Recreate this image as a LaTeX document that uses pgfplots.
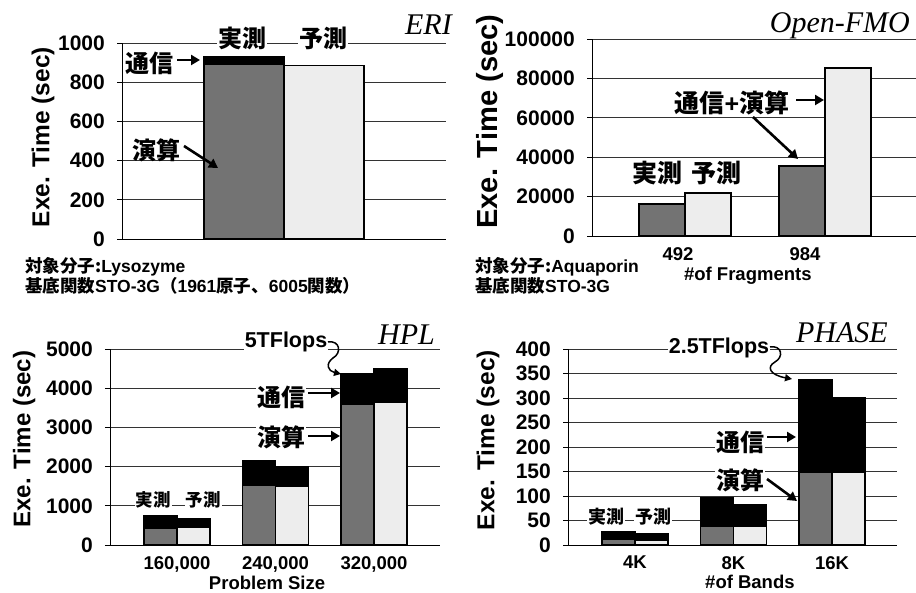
\documentclass[border=0pt]{standalone}
\usepackage{pgfplots}
\pgfplotsset{compat=1.18}
\usetikzlibrary{arrows.meta,patterns}
\usepackage{fontspec}
\setmainfont{Liberation Sans}
\newfontfamily\serifit{Liberation Serif}
\newfontfamily\jp{Noto Sans CJK JP}
\newcommand{\ylab}[1]{\resizebox{#1pt}{!}{\bfseries Exe. Time (sec)}}
\pgfplotsset{
  panel/.style={
    scale only axis,
    anchor=south west,
    ybar,
    axis x line*=bottom,
    axis y line*=left,
    axis line style={black, line width=0.9pt, -},
    ymin=0,
    ymajorgrids,
    major grid style={black!80, line width=0.6pt},
    xtick style={draw=none},
    ytick style={black, line width=0.6pt},
    tick align=outside,
    major tick length=5pt,
    scaled y ticks=false,
    yticklabel style={font=\fontsize{21}{21}\selectfont\bfseries, inner sep=0pt, anchor=east, xshift=-12pt},
    xticklabel style={font=\fontsize{18.5}{18.5}\selectfont\bfseries, inner sep=0pt, yshift=-6pt},
    ylabel style={font=\fontsize{24.5}{24.5}\selectfont\bfseries, anchor=center, inner sep=0pt},
    xlabel style={font=\fontsize{18.5}{18.5}\selectfont\bfseries, anchor=center},
    /pgf/number format/assume math mode=true,
    clip=false,
  },
  tot/.style={fill=black, draw=black, line width=1.5pt},
  meas/.style={fill=black!55, draw=black, line width=1.5pt},
  pred/.style={fill=black!7, draw=black, line width=1.5pt},
}
\tikzset{
  jl/.style={font=\jp\bfseries\fontsize{24}{24}\selectfont, inner sep=1pt},
  ar/.style={line width=2.6pt, -{Triangle[length=9pt,width=10pt]}},
  ttl/.style={font=\serifit\itshape\fontsize{30}{30}\selectfont, inner sep=0pt, anchor=base east},
  note/.style={anchor=west, inner sep=0pt, font=\bfseries\fontsize{17.5}{17.5}\selectfont},
}
\begin{document}
\begin{tikzpicture}[x=1pt,y=1pt]
\useasboundingbox (0,0) rectangle (916,593);

% ---------------- ERI ----------------
\begin{axis}[panel, at={(122pt,354pt)}, width=324pt, height=196pt,
  ymax=1000, ytick={0,200,400,600,800,1000}, yticklabels={0,200,400,600,800,1000},
  xmin=-1, xmax=1, xtick=\empty, bar width=80pt,
  ylabel={\ylab{180}},
  ylabel style={at={(axis description cs:-0.244,0.52)}}]
\addplot[tot, bar shift=-40pt] coordinates {(0,930)};
\addplot[meas, bar shift=-40pt] coordinates {(0,890)};
\addplot[pred, bar shift=40pt] coordinates {(0,885)};
\end{axis}
\node[ttl] at (452,558) {ERI};
\node[jl, fill=white] at (242,555) {実測};
\node[jl, fill=white] at (323,555) {予測};
\node[jl] at (149,530) {通信};
\draw[ar] (177,533) -- (200,533);
\node[jl] at (156,443) {演算};
\draw[ar] (184,447) -- (218,425);
\node[note] at (25,326) {{\jp 対象分子:}Lysozyme};
\node[note] at (25,307) {{\jp 基底関数}STO-3G{\jp （}1961{\jp 原子、}6005{\jp 関数）}};

% ---------------- Open-FMO ----------------
\begin{axis}[panel, at={(592pt,357pt)}, width=324pt, height=197pt,
  ymax=100000, ytick={0,20000,40000,60000,80000,100000}, yticklabels={0,20000,40000,60000,80000,100000},
  xmin=-0.664, xmax=1.65, xtick={-0.05,0.857}, xticklabels={492,984}, bar width=46pt,
  xlabel={\#of Fragments},
  xlabel style={at={(axis description cs:0.481,-0.203)}},
  ylabel={\ylab{214}},
  ylabel style={at={(axis description cs:-0.315,0.58)}}]
\addplot[meas, bar shift=-23pt] coordinates {(0,16200) (1,35500)};
\addplot[pred, bar shift=23pt] coordinates {(0,21800) (1,85300)};
\end{axis}
\node[ttl] at (910,560) {Open-FMO};
\node[jl, font=\jp\bfseries\fontsize{25}{25}\selectfont] at (657,420) {実測};
\node[jl, font=\jp\bfseries\fontsize{25}{25}\selectfont] at (716,420) {予測};
\node[jl, font=\bfseries\fontsize{25}{25}\selectfont] at (732,490) {{\jp 通信}+{\jp 演算}};
\draw[ar] (796,493) -- (824,493);
\draw[ar] (753,476) -- (798,434);
\node[note] at (475,326) {{\jp 対象分子:}Aquaporin};
\node[note] at (475,307) {{\jp 基底関数}STO-3G};

% ---------------- HPL ----------------
\begin{axis}[panel, at={(110pt,48pt)}, width=330pt, height=196pt,
  ymax=5000, ytick={0,1000,2000,3000,4000,5000}, yticklabels={0,1000,2000,3000,4000,5000},
  xmin=-0.68, xmax=2.67, xtick={0,1,2}, xticklabels={{160,000},{240,000},{320,000}}, bar width=33pt,
  xlabel={Problem Size},
  xlabel style={at={(axis description cs:0.476,-0.195)}},
  ylabel={\ylab{177}},
  ylabel style={at={(axis description cs:-0.26,0.54)}}]
\addplot[tot, bar shift=-16.5pt] coordinates {(0,740) (1,2150) (2,4360)};
\addplot[meas, bar shift=-16.5pt] coordinates {(0,420) (1,1530) (2,3600)};
\addplot[tot, bar shift=16.5pt] coordinates {(0,680) (1,2000) (2,4500)};
\addplot[pred, bar shift=16.5pt] coordinates {(0,440) (1,1510) (2,3630)};
\end{axis}
\node[ttl] at (435,248) {HPL};
\node[jl, fill=white, font=\jp\bfseries\fontsize{17.5}{17.5}\selectfont] at (153,93) {実測};
\node[jl, fill=white, font=\jp\bfseries\fontsize{17.5}{17.5}\selectfont] at (203,93) {予測};
\node[fill=white, inner sep=1pt, font=\bfseries\fontsize{21.5}{21.5}\selectfont] at (286,251) {5TFlops};
\draw[line width=1.5pt, -{Triangle[length=7pt,width=7pt]}] (328,251) .. controls (340,253) and (342,240) .. (333,235) .. controls (325,229) and (328,222) .. (341,219);
\node[jl, fill=white] at (281,196) {通信};
\draw[ar] (308,200) -- (340,200);
\node[jl, fill=white] at (281,156) {演算};
\draw[ar] (308,157) -- (340,157);

% ---------------- PHASE ----------------
\begin{axis}[panel, at={(568pt,48pt)}, width=329pt, height=196pt,
  ymax=400, ytick={0,50,100,150,200,250,300,350,400}, yticklabels={0,50,100,150,200,250,300,350,400},
  xmin=-0.68, xmax=2.66, xtick={0,1,2}, xticklabels={4K,8K,16K}, bar width=33pt,
  xlabel={\#of Bands},
  xlabel style={at={(axis description cs:0.553,-0.189)}},
  ylabel={\ylab{180}},
  ylabel style={at={(axis description cs:-0.243,0.535)}}]
\addplot[tot, bar shift=-16.5pt] coordinates {(0,27) (1,97) (2,337)};
\addplot[meas, bar shift=-16.5pt] coordinates {(0,12) (1,39) (2,148)};
\addplot[tot, bar shift=16.5pt] coordinates {(0,22) (1,83) (2,300)};
\addplot[pred, bar shift=16.5pt] coordinates {(0,10) (1,39) (2,148)};
\end{axis}
\node[ttl] at (888,250) {PHASE};
\node[jl, fill=white, font=\jp\bfseries\fontsize{18}{18}\selectfont] at (606,76) {実測};
\node[jl, fill=white, font=\jp\bfseries\fontsize{18}{18}\selectfont] at (653,76) {予測};
\node[fill=white, inner sep=1pt, font=\bfseries\fontsize{21.5}{21.5}\selectfont] at (719,245) {2.5TFlops};
\draw[line width=1.5pt, -{Triangle[length=7pt,width=7pt]}] (770,246) .. controls (782,248) and (784,236) .. (775,231) .. controls (766,226) and (770,218) .. (792,214);
\node[jl, fill=white] at (740,151) {通信};
\draw[ar] (767,156) -- (796,156);
\node[jl, fill=white] at (740,113) {演算};
\draw[ar] (767,114) -- (797,92);
\end{tikzpicture}
\end{document}
